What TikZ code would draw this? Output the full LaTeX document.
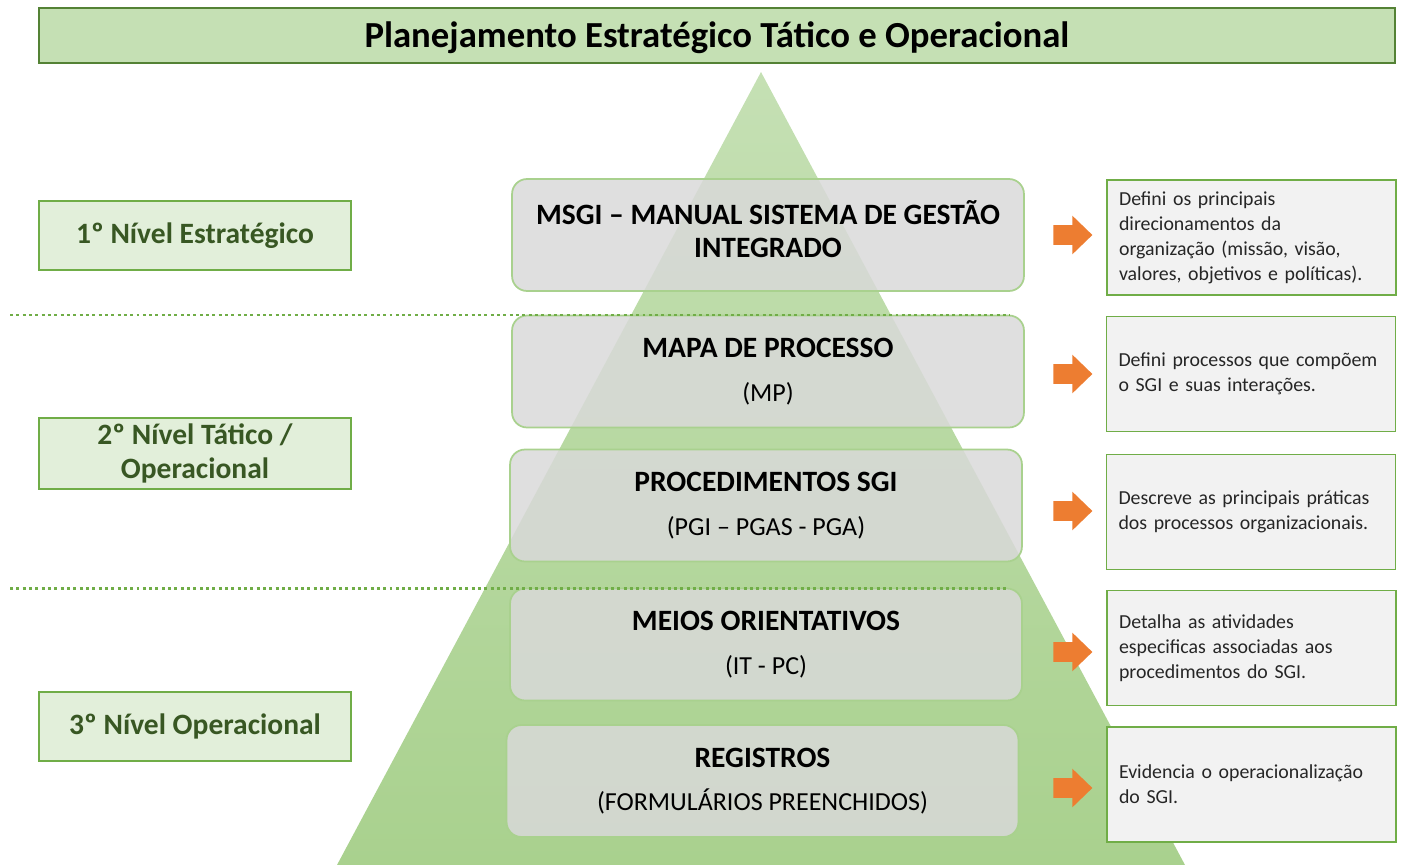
\documentclass[tikz,border=0pt]{standalone}
\usepackage{fontspec}
\setmainfont{Carlito}
\usetikzlibrary{shapes.arrows}
\definecolor{verdeclaro}{RGB}{197,224,180}
\definecolor{verdemedio}{RGB}{169,209,142}
\definecolor{verde}{RGB}{112,173,71}
\definecolor{verdetit}{RGB}{84,130,53}
\definecolor{verdeescuro}{RGB}{56,87,35}
\definecolor{verdebg}{RGB}{226,239,218}
\definecolor{laranja}{RGB}{237,125,49}
\definecolor{cinza}{RGB}{217,217,217}
\definecolor{cinzaclaro}{RGB}{242,242,242}
\newcommand{\doctit}[1]{{\fontsize{16.8}{19}\selectfont\bfseries #1}}
\newcommand{\subir}[2]{\raisebox{#1}[\height][\depth]{#2}}

\begin{document}
\begin{tikzpicture}[x=0.02cm, y=-0.02cm,
	titulo/.style = {draw=verdetit, line width=1pt, fill=verdeclaro, minimum width=27.12cm, minimum height=1.1cm, font=\fontsize{20.9}{24}\selectfont\bfseries},
	nivel/.style = {draw=verde, line width=1pt, fill=verdebg, minimum width=6.24cm, minimum height=1.38cm, align=center, text=verdeescuro, font=\fontsize{16.8}{19.4}\selectfont\bfseries},
	doc/.style = {draw=verdemedio, line width=1pt, fill=cinza, fill opacity=0.85, text opacity=1, rounded corners=0.3cm, minimum width=10.24cm, minimum height=2.24cm, align=center, font=\fontsize{14.8}{18.7}\selectfont},
	desc/.style = {draw=verde, line width=0.8pt, fill=cinzaclaro, minimum width=5.78cm, minimum height=2.3cm, text width=5.3cm, align=left, text=black!85, font=\fontsize{11.3}{14.2}\selectfont},
	seta/.style = {single arrow, fill=laranja, draw=none, anchor=tail, minimum height=0.78cm, single arrow head extend=0.19cm, single arrow tip angle=88, inner xsep=0pt, inner ysep=0.19cm},
	pontos/.style = {draw=verde, line width=1.6pt, dash pattern=on 1.7pt off 1.9pt}]
		\useasboundingbox (0,0) rectangle (1403,865);
		\shade[top color=verdeclaro, bottom color=verdemedio] (761,72) -- (1185,865) -- (337,865) -- cycle;
		\node[titulo] (t) at (717,35.5) {\subir{-1.5pt}{Planejamento Estratégico Tático e Operacional}};
		\node[nivel] (n1) at (195,235.5) {1º Nível Estratégico};
		\node[nivel] (n2) at (195,453.5) {2º Nível Tático /\\Operacional};
		\node[nivel] (n3) at (195,726.5) {3º Nível Operacional};
		\node[doc] (1) at (768,235) {\subir{0.5pt}{\begin{tabular}{@{}c@{}}\doctit{MSGI – MANUAL SISTEMA DE GESTÃO}\\\doctit{INTEGRADO}\end{tabular}}};
		\node[doc] (2) at (768,371.5) {\doctit{MAPA DE PROCESSO}\\[6pt](MP)};
		\node[doc] (3) at (766,505.5) {\doctit{PROCEDIMENTOS SGI}\\[6pt](PGI – PGAS - PGA)};
		\node[doc] (4) at (766,644.5) {\doctit{MEIOS ORIENTATIVOS}\\[6pt](IT - PC)};
		\node[doc] (5) at (762.5,781) {\doctit{REGISTROS}\\[6pt](FORMULÁRIOS PREENCHIDOS)};
		\coordinate (p1) at (10,315);
		\coordinate (q1) at (1010,315);
		\coordinate (p2) at (10,588.5);
		\coordinate (q2) at (1008,588.5);
		\draw[pontos] (p1) -- (q1);
		\draw[pontos] (p2) -- (q2);
		\node[seta] (s1) at (1053,235) {};
		\node[seta] (s2) at (1053,374) {};
		\node[seta] (s3) at (1053,511) {};
		\node[seta] (s4) at (1053,652) {};
		\node[seta] (s5) at (1053,788) {};
		\node[desc] (d1) at (1251.5,237.5) {Defini os principais\\direcionamentos da\\organização (missão, visão,\\valores, objetivos e políticas).};
		\node[desc] (d2) at (1251,374) {Defini processos que compõem\\o SGI e suas interações.};
		\node[desc] (d3) at (1251,512) {Descreve as principais práticas\\dos processos organizacionais.};
		\node[desc] (d4) at (1251.5,648) {Detalha as atividades\\especificas associadas aos\\procedimentos do SGI.};
		\node[desc] (d5) at (1251.5,784.5) {Evidencia o operacionalização\\do SGI.};
	\end{tikzpicture}
\end{document}
